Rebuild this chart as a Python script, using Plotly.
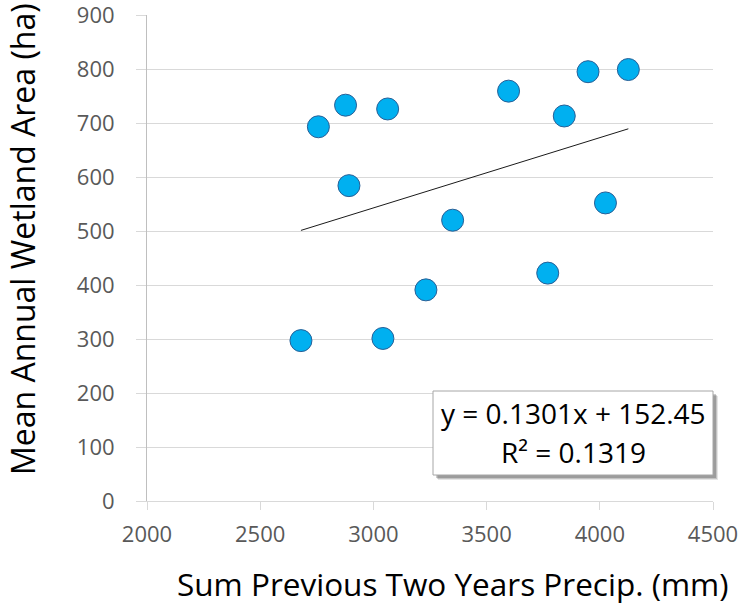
import plotly.graph_objects as go

# Data
precip_mm = [2680, 2757, 2877, 2892, 3063, 3042, 3232, 3350, 3597, 3770, 3843, 3948, 4025, 4126]
wetland_ha = [297, 693, 733, 584, 726, 301, 391, 520, 759, 422, 713, 795, 552, 799]

# Linear trendline coefficients from the chart label
slope = 0.1301
intercept = 152.45
r_squared = 0.1319

x_ticks = [2000, 2500, 3000, 3500, 4000, 4500]
y_ticks = [0, 100, 200, 300, 400, 500, 600, 700, 800, 900]

trend_x = [min(precip_mm), max(precip_mm)]
trend_y = [slope * v + intercept for v in trend_x]

FONT = "Open Sans"
W, H = 743, 606
L, R, T, B = 147, 30, 15, 105

fig = go.Figure()
fig.add_trace(go.Scatter(
    x=precip_mm, y=wetland_ha, mode="markers",
    marker=dict(size=22, color="#00B0F0", line=dict(color="#2A5F96", width=1)),
    showlegend=False, cliponaxis=False,
))
fig.add_trace(go.Scatter(
    x=trend_x, y=trend_y, mode="lines",
    line=dict(color="#1a1a1a", width=1), showlegend=False,
))

def px_to_paper_x(px):
    return (px - L) / (W - L - R)

def px_to_paper_y(py):
    return (H - B - py) / (H - T - B)

# label box with soft shadow
bx0, by0, bx1, by1 = 433, 391, 713, 475
for off, op in [(5, 0.10), (4, 0.15), (3, 0.2)]:
    fig.add_shape(type="rect", xref="paper", yref="paper",
                  x0=px_to_paper_x(bx0 + off), x1=px_to_paper_x(bx1 + off),
                  y0=px_to_paper_y(by1 + off), y1=px_to_paper_y(by0 + off),
                  fillcolor="rgba(0,0,0,%s)" % op, line=dict(width=0), layer="above")
fig.add_shape(type="rect", xref="paper", yref="paper",
              x0=px_to_paper_x(bx0), x1=px_to_paper_x(bx1),
              y0=px_to_paper_y(by1), y1=px_to_paper_y(by0),
              fillcolor="white", line=dict(color="#A6A6A6", width=1), layer="above")

fig.add_annotation(xref="paper", yref="paper",
                   x=px_to_paper_x((bx0 + bx1) / 2), y=px_to_paper_y(413),
                   text="y = %.4fx + %.2f" % (slope, intercept), showarrow=False,
                   font=dict(family=FONT, size=28, color="black"),
                   xanchor="center", yanchor="middle")
fig.add_annotation(xref="paper", yref="paper",
                   x=px_to_paper_x((bx0 + bx1) / 2), y=px_to_paper_y(452),
                   text="R² = %.4f" % r_squared, showarrow=False,
                   font=dict(family=FONT, size=28, color="black"),
                   xanchor="center", yanchor="middle")

# axis titles
fig.add_annotation(xref="paper", yref="paper",
                   x=px_to_paper_x(453), y=px_to_paper_y(583),
                   text="Sum Previous Two Years Precip. (mm)", showarrow=False,
                   font=dict(family=FONT, size=31.5, color="black"),
                   xanchor="center", yanchor="middle")
fig.add_annotation(xref="paper", yref="paper",
                   x=px_to_paper_x(22), y=px_to_paper_y(239),
                   text="Mean Annual Wetland Area (ha)", showarrow=False, textangle=-90,
                   font=dict(family=FONT, size=32, color="black"),
                   xanchor="center", yanchor="middle")

fig.update_layout(
    width=W, height=H,
    margin=dict(l=L, r=R, t=T, b=B, autoexpand=False),
    paper_bgcolor="white", plot_bgcolor="white",
    font=dict(family=FONT),
)
fig.update_xaxes(
    range=[2000, 4500], tickvals=x_ticks, ticktext=[str(v) for v in x_ticks],
    showgrid=False, zeroline=False, automargin=False,
    showline=True, linecolor="#D9D9D9", linewidth=1,
    ticks="outside", ticklen=8, tickcolor="#D9D9D9", tickwidth=1,
    tickfont=dict(family=FONT, size=22, color="#595959"),
    ticklabelstandoff=6, ticklabeloverflow="allow",
)
fig.update_yaxes(
    range=[0, 900], tickvals=y_ticks, ticktext=[str(v) for v in y_ticks],
    showgrid=True, gridcolor="#D9D9D9", gridwidth=1, zeroline=False, automargin=False,
    showline=True, linecolor="#BFBFBF", linewidth=1,
    ticks="outside", ticklen=10, tickcolor="#D9D9D9", tickwidth=1,
    tickfont=dict(family=FONT, size=22, color="#595959"),
    ticklabelstandoff=17, ticklabeloverflow="allow",
)

fig.write_html("out.html", config={"displayModeBar": False},
               post_script="document.body.style.margin='0';")
